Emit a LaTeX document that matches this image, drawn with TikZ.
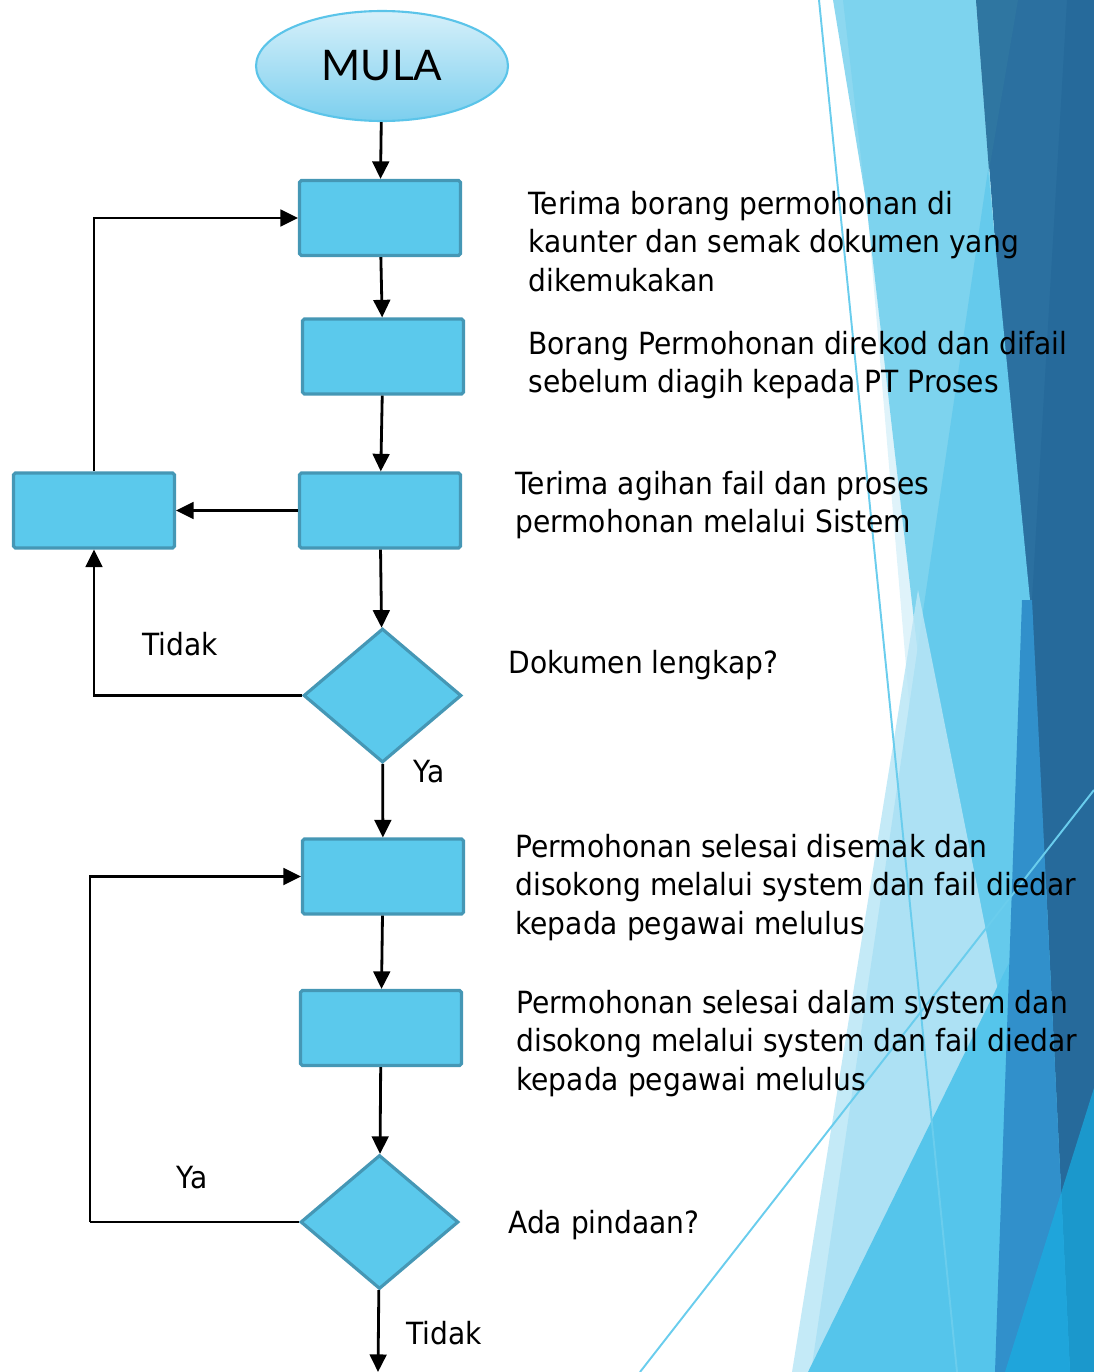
\documentclass[tikz,border=0pt]{standalone}
\usepackage{fontspec}
\setmainfont{DejaVu Sans}[FakeStretch=0.92]
\newfontfamily\mulafont{Lato}
\usetikzlibrary{arrows.meta,shapes.geometric,positioning}
\definecolor{boxfill}{HTML}{5BC9EC}
\definecolor{boxline}{HTML}{4597B5}
\definecolor{ovaltop}{HTML}{D6F0FA}
\definecolor{ovalbot}{HTML}{7CCFEE}
\definecolor{ovalline}{HTML}{5BC4E9}
\definecolor{facetlb}{HTML}{7DD3EE}
\definecolor{facetsl}{HTML}{8DD8F0}
\definecolor{facetvl}{HTML}{DFF3FA}
\definecolor{facetmid}{HTML}{65CAEC}
\definecolor{facetpale}{RGB}{186,230,246}
\definecolor{facetsea}{HTML}{55C5EB}
\definecolor{facetdk}{HTML}{2B70A0}
\definecolor{facetdk2}{HTML}{2F76A1}
\definecolor{facetdk3}{HTML}{266A9B}
\definecolor{facetmd}{HTML}{3190CB}
\definecolor{facetcy}{RGB}{23,175,228}
\definecolor{facetln}{HTML}{6ACDED}

\begin{document}
\begin{tikzpicture}[x=0.02cm,y=-0.02cm,
  proses/.style={draw=boxline,fill=boxfill,line width=1.8pt,rounded corners=1pt,minimum width=3.22cm,minimum height=1.5cm,inner sep=0pt},
  keputusan/.style={diamond,draw=boxline,fill=boxfill,line width=1.8pt,minimum width=3.16cm,minimum height=2.68cm,inner sep=0pt},
  aliran/.style={line width=1.6pt,-{Triangle[length=10pt,width=9.5pt]}},
  garis/.style={line width=1.6pt},
  nota/.style={anchor=north west,inner sep=0pt,align=left,font=\fontsize{17.4}{21.8}\selectfont},
  cabang/.style={inner sep=0pt,font=\fontsize{17.4}{21.8}\selectfont}]
  \useasboundingbox (0,0) rectangle (1094,1372);

  \fill[facetdk] (976,0) -- (1094,0) -- (1094,1372) -- (1000,1372) -- (1023,600) -- cycle;
  \fill[facetvl] (867,207) -- (966,1372) -- (1000,1372) -- cycle;
  \fill[facetsl] (833,0) -- (845,0) -- (867,207) -- cycle;
  \fill[facetlb] (843,0) -- (976,0) -- (1023,600) -- (1000,1372) -- cycle;
  \fill[facetmid] (988,170) -- (811,1372) -- (1005,1372) -- (1030,600) -- cycle;
  \fill[facetpale,fill opacity=.85] (918,590) -- (792,1372) -- (1074,1372) -- cycle;
  \fill[facetsea] (1094,790) -- (808,1372) -- (1094,1372) -- cycle;
  \fill[facetdk2] (976,0) -- (1018,0) -- (989,171) -- cycle;
  \fill[facetdk3] (1067,0) -- (1094,0) -- (1094,1372) -- (1070,1372) -- (1032,600) -- cycle;
  \fill[facetmd] (1022,600) -- (1032,600) -- (1070,1372) -- (995,1372) -- cycle;
  \fill[facetcy,fill opacity=.68] (1094,1088) -- (1094,1372) -- (1005,1372) -- cycle;
  \draw[facetln,line width=1.1pt] (819,0) -- (957,1372);
  \draw[facetln,line width=1.1pt] (640,1372) -- (1094,790);

  \node[ellipse,draw=ovalline,line width=1.2pt,top color=ovaltop,bottom color=ovalbot,minimum width=5.04cm,minimum height=2.2cm,inner sep=0pt,font=\mulafont\fontsize{24}{26}\selectfont] (mula) at (382,66) {MULA};
  \node[proses] (terima) at (380,218) {};
  \node[proses] (rekod) at (383,356.5) {};
  \node[proses] (agihan) at (380,510.5) {};
  \node[proses] (pulang) at (94,510.5) {};
  \node[keputusan] (lengkap) at (382.5,695.5) {};
  \node[proses] (semak) at (383,876.5) {};
  \node[proses] (selesai) at (381,1028) {};
  \node[keputusan] (pindaan) at (379.5,1222) {};
  \coordinate (balik) at (90,1222);
  \coordinate (akhir) at (378,1372);

  \draw[aliran] (mula) -- (terima);
  \draw[aliran] (terima) -- (rekod);
  \draw[aliran] (rekod) -- (agihan);
  \draw[aliran] (agihan) -- (pulang);
  \draw[aliran] (pulang.north) |- (terima.west);
  \draw[aliran] (agihan) -- (lengkap);
  \draw[aliran] (lengkap.west) -| (pulang.south);
  \draw[aliran] (lengkap) -- (semak);
  \draw[aliran] (semak) -- (selesai);
  \draw[aliran] (selesai) -- (pindaan);
  \draw[garis] (pindaan.west) -- (balik);
  \draw[aliran] (balik) |- (semak.west);
  \draw[aliran] (pindaan) -- (akhir);

  \node[cabang] (tidak1) at (180,644) {Tidak};
  \node[cabang] (ya1) at (429,772) {Ya};
  \node[cabang] (ya2) at (192,1178) {Ya};
  \node[cabang] (tidak2) at (444,1333) {Tidak};

  \node[nota] (nota1) at (528,191) {Terima borang permohonan di\\kaunter dan semak dokumen yang\\dikemukakan};
  \node[nota] (nota2) at (528,331) {Borang Permohonan direkod dan difail\\sebelum diagih kepada PT Proses};
  \node[nota] (nota3) at (515,471) {Terima agihan fail dan proses\\permohonan melalui Sistem};
  \node[nota] (nota4) at (508,650) {Dokumen lengkap?};
  \node[nota] (nota5) at (515,834) {Permohonan selesai disemak dan\\disokong melalui system dan fail diedar\\kepada pegawai melulus};
  \node[nota] (nota6) at (516,990) {Permohonan selesai dalam system dan\\disokong melalui system dan fail diedar\\kepada pegawai melulus};
  \node[nota] (nota7) at (508,1210) {Ada pindaan?};
\end{tikzpicture}
\end{document}
